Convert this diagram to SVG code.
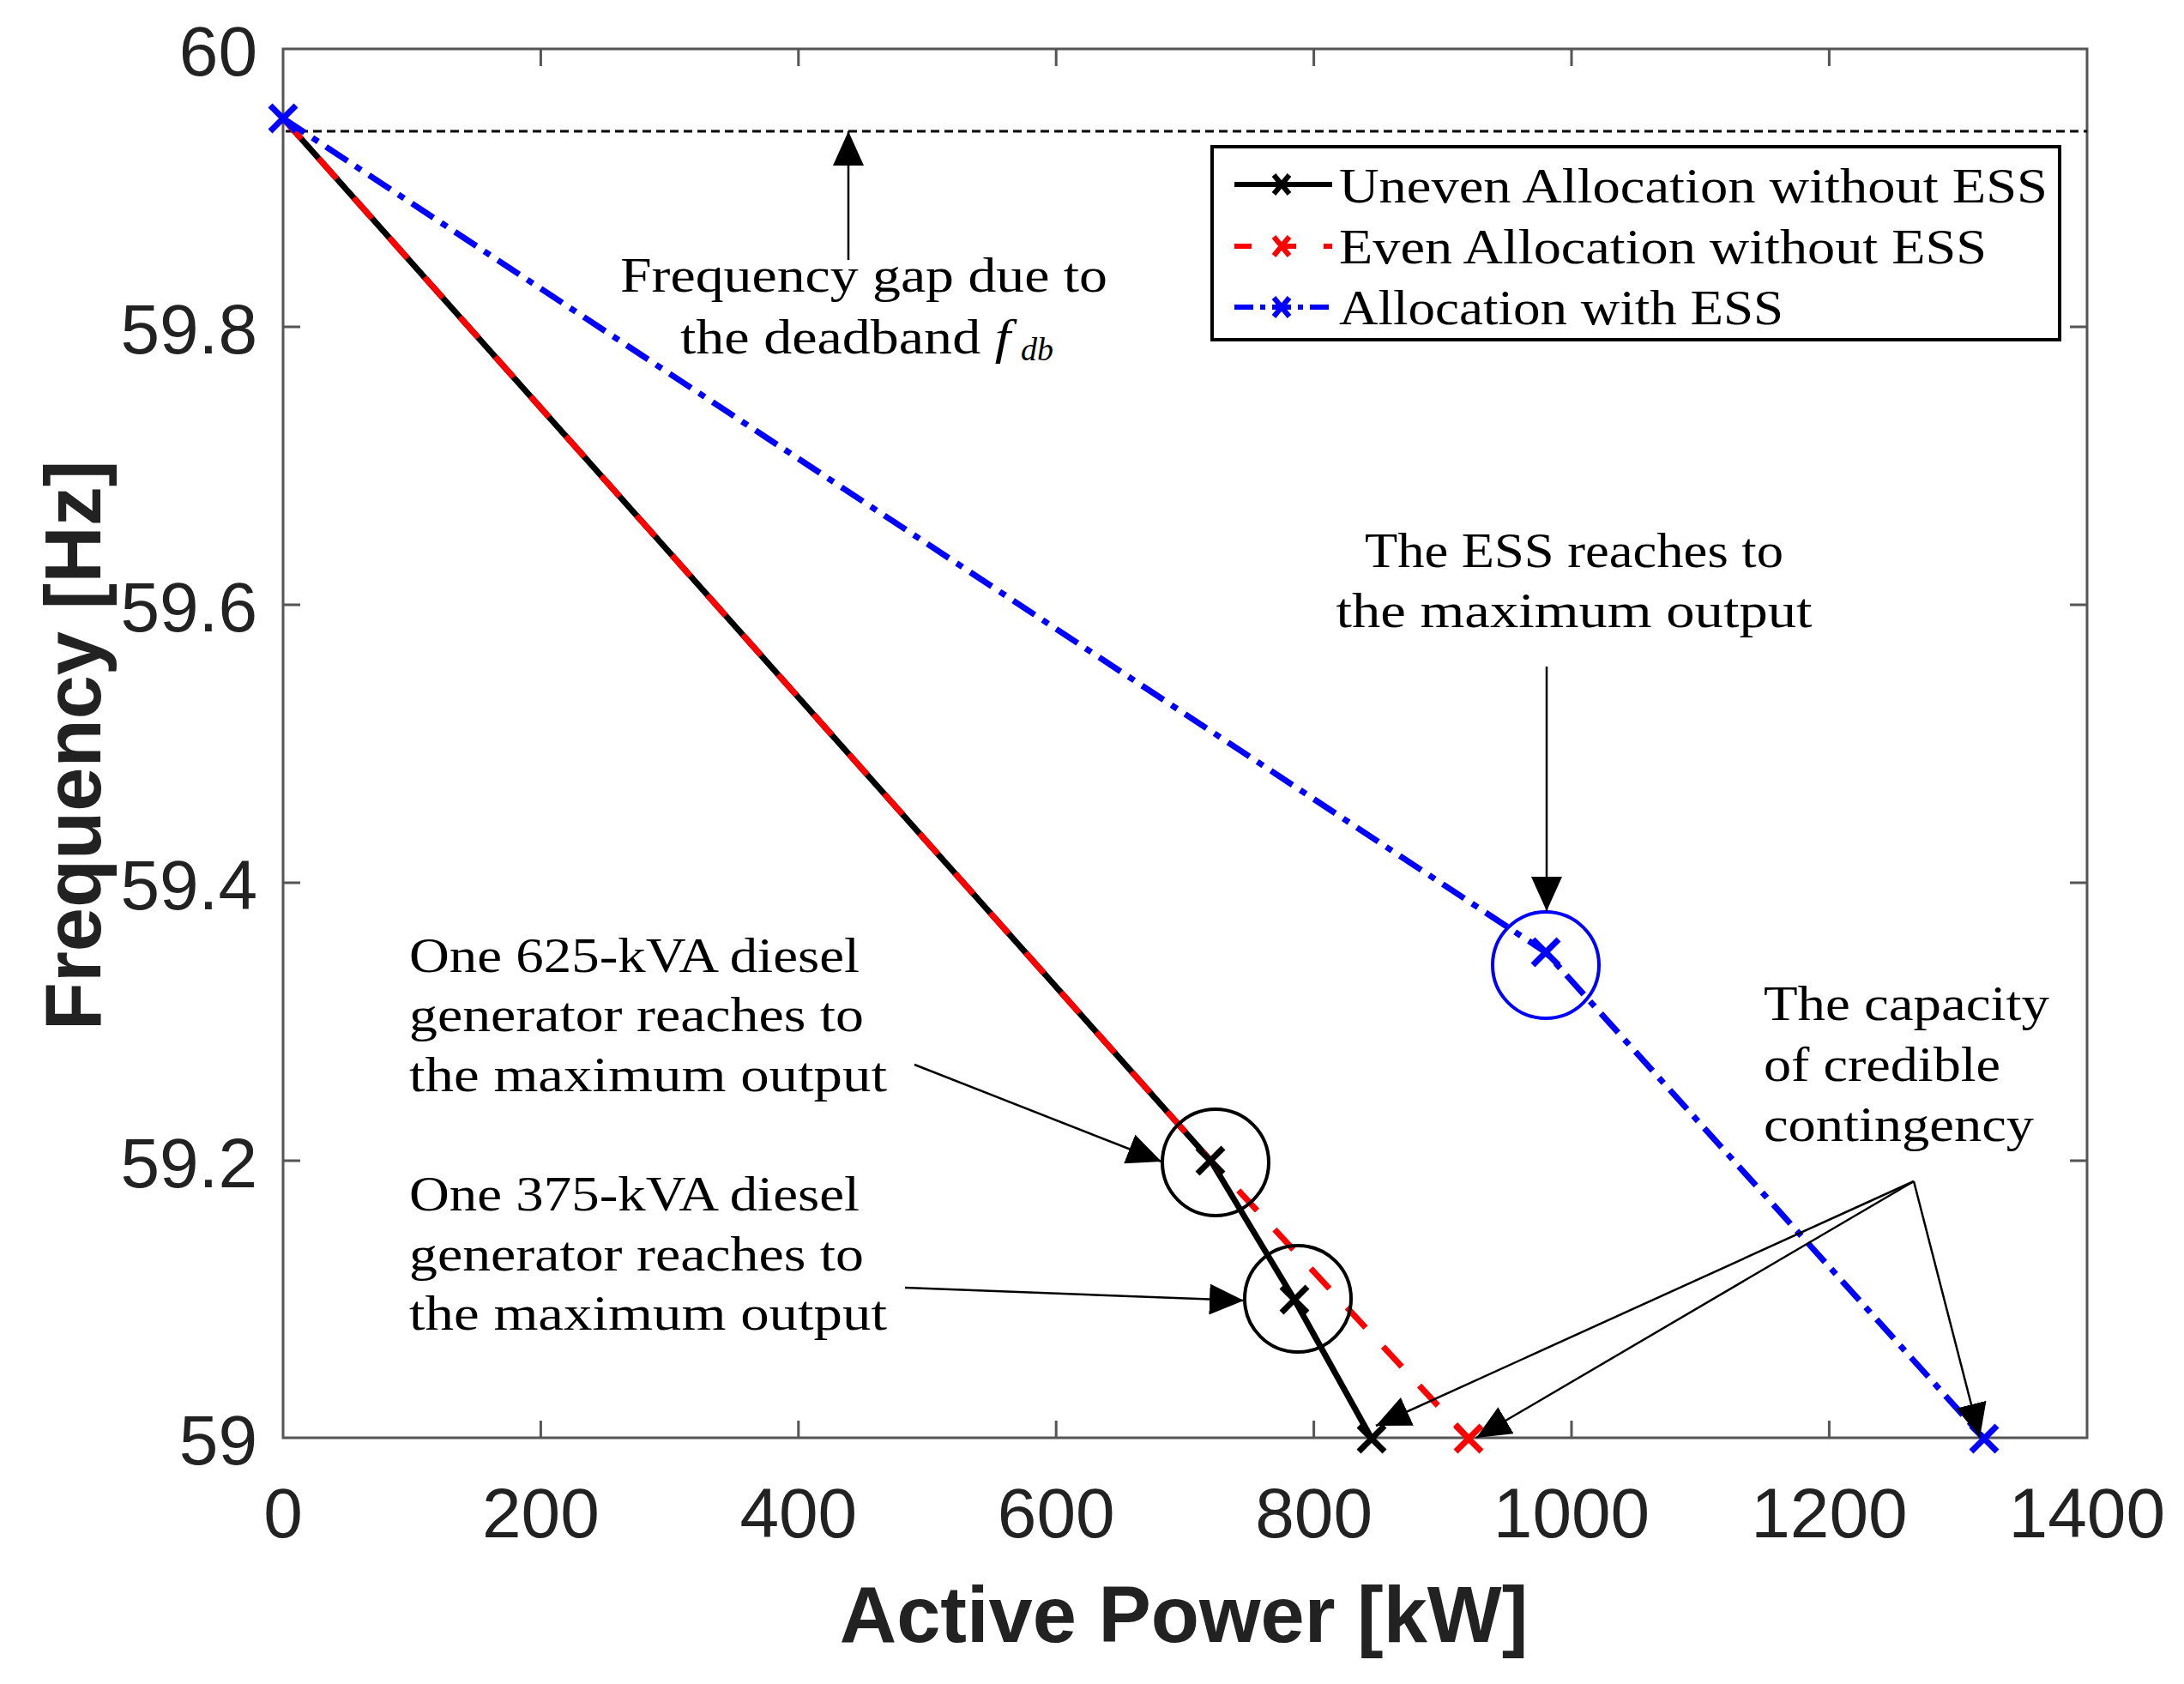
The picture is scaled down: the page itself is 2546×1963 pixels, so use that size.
<svg xmlns="http://www.w3.org/2000/svg" width="2546" height="1963" viewBox="0 0 2546 1963">
<style>
.tick{font-family:"Liberation Sans",Arial,sans-serif;font-size:82px;fill:#222}
.ttl{font-family:"Liberation Sans",Arial,sans-serif;font-size:92px;font-weight:bold;fill:#222}
.ann{font-family:"Liberation Serif","Times New Roman",serif;font-size:56px;fill:#000}
.ax{stroke:#555;stroke-width:3;fill:none}
</style>
<defs>
<marker id="ahb" viewBox="0 0 40 36" refX="40" refY="18" markerWidth="40" markerHeight="36" orient="auto" markerUnits="userSpaceOnUse"><path d="M0,0 L40,18 L0,36 Z" fill="#000"/></marker>
</defs>
<rect width="2546" height="1963" fill="#fff"/>
<g id="axes">
<rect x="330" y="57" width="2103" height="1619" class="ax"/>
<path class="ax" d="M630.4,57v20M930.8,57v20M1231.2,57v20M1531.6,57v20M1832,57v20M2132.4,57v20M630.4,1676v-20M930.8,1676v-20M1231.2,1676v-20M1531.6,1676v-20M1832,1676v-20M2132.4,1676v-20M330,381h20M330,705h20M330,1029h20M330,1353h20M2433,381h-20M2433,705h-20M2433,1029h-20M2433,1353h-20"/>
<g class="tick" text-anchor="end">
<text x="300" y="88">60</text><text x="300" y="412">59.8</text><text x="300" y="736">59.6</text><text x="300" y="1060">59.4</text><text x="300" y="1384">59.2</text><text x="300" y="1707">59</text>
</g>
<g class="tick" text-anchor="middle">
<text x="330" y="1792">0</text><text x="630.4" y="1792">200</text><text x="930.8" y="1792">400</text><text x="1231.2" y="1792">600</text><text x="1531.6" y="1792">800</text><text x="1832" y="1792">1000</text><text x="2132.4" y="1792">1200</text><text x="2432.8" y="1792">1400</text>
</g>
<text class="ttl" x="1380" y="1914" text-anchor="middle">Active Power [kW]</text>
<text class="ttl" transform="translate(117,869) rotate(-90)" text-anchor="middle">Frequency [Hz]</text>
</g>
<g id="curves" fill="none" stroke-width="7">
<line x1="333" y1="153" x2="2433" y2="153" stroke="#000" stroke-width="3" stroke-dasharray="10,6"/>
<polyline points="330,138 1411.5,1353 1509,1515 1599,1677" stroke="#000"/>
<polyline points="330,138 1411.5,1353 1712,1677" stroke="#f00" stroke-dasharray="32,30"/>
<polyline points="330,138 1802,1110 2313,1677" stroke="#00f" stroke-dasharray="30,11,8,11"/>
<g stroke-width="7">
<path d="M1396,1338l30,30M1426,1338l-30,30M1494,1500l30,30M1524,1500l-30,30M1584,1662l30,30M1614,1662l-30,30" stroke="#000"/>
<path d="M1697,1662l30,30M1727,1662l-30,30" stroke="#f00"/>
<path d="M315,123l30,30M345,123l-30,30M1787,1095l30,30M1817,1095l-30,30M2298,1662l30,30M2328,1662l-30,30" stroke="#00f"/>
</g>
<circle cx="1802" cy="1125" r="62" stroke="#00f" stroke-width="4"/>
<circle cx="1417" cy="1355" r="62" stroke="#000" stroke-width="4"/>
<circle cx="1513" cy="1514" r="62" stroke="#000" stroke-width="4"/>
</g>
<g id="legend">
<rect x="1413" y="171" width="988" height="225" fill="#fff" stroke="#000" stroke-width="4"/>
<line x1="1439" y1="215" x2="1553" y2="215" stroke="#000" stroke-width="6"/>
<path d="M1485,204l18,22M1503,204l-18,22" stroke="#000" stroke-width="6"/>
<line x1="1439" y1="287" x2="1553" y2="287" stroke="#f00" stroke-width="6" stroke-dasharray="20,32"/>
<path d="M1485,276l18,22M1503,276l-18,22" stroke="#f00" stroke-width="6"/>
<line x1="1439" y1="358" x2="1553" y2="358" stroke="#00f" stroke-width="6" stroke-dasharray="22,8,6,8"/>
<path d="M1485,347l18,22M1503,347l-18,22" stroke="#00f" stroke-width="6"/>
<text class="ann" x="1561" y="236" textLength="826" lengthAdjust="spacingAndGlyphs">Uneven Allocation without ESS</text>
<text class="ann" x="1561" y="307" textLength="755" lengthAdjust="spacingAndGlyphs">Even Allocation without ESS</text>
<text class="ann" x="1561" y="378" textLength="518" lengthAdjust="spacingAndGlyphs">Allocation with ESS</text>
</g>
<g id="connectors" fill="none" stroke="#000" stroke-width="2.5">
<line x1="989" y1="303" x2="989" y2="153" marker-end="url(#ahb)"/>
<line x1="1803" y1="777" x2="1803" y2="1062" marker-end="url(#ahb)"/>
<line x1="1066" y1="1241" x2="1354" y2="1354" marker-end="url(#ahb)"/>
<line x1="1055" y1="1501" x2="1450" y2="1516" marker-end="url(#ahb)"/>
<line x1="2231" y1="1377" x2="1604" y2="1662" marker-end="url(#ahb)"/>
<line x1="2231" y1="1377" x2="1721" y2="1676" marker-end="url(#ahb)"/>
<line x1="2231" y1="1377" x2="2308" y2="1676" marker-end="url(#ahb)"/>
</g>
<g id="annotations" class="ann">
<text x="1007" y="340" text-anchor="middle" textLength="568" lengthAdjust="spacingAndGlyphs">Frequency gap due to</text>
<text x="793" y="412" textLength="385" lengthAdjust="spacingAndGlyphs">the deadband <tspan font-style="italic">f</tspan></text>
<text x="1190" y="420" font-size="38" font-style="italic">db</text>
<text x="1835" y="661" text-anchor="middle" textLength="488" lengthAdjust="spacingAndGlyphs">The ESS reaches to</text>
<text x="1835" y="731" text-anchor="middle" textLength="555" lengthAdjust="spacingAndGlyphs">the maximum output</text>
<text x="477" y="1133" textLength="525" lengthAdjust="spacingAndGlyphs">One 625-kVA diesel</text>
<text x="477" y="1202" textLength="530" lengthAdjust="spacingAndGlyphs">generator reaches to</text>
<text x="477" y="1272" textLength="557" lengthAdjust="spacingAndGlyphs">the maximum output</text>
<text x="477" y="1411" textLength="525" lengthAdjust="spacingAndGlyphs">One 375-kVA diesel</text>
<text x="477" y="1481" textLength="530" lengthAdjust="spacingAndGlyphs">generator reaches to</text>
<text x="477" y="1550" textLength="557" lengthAdjust="spacingAndGlyphs">the maximum output</text>
<text x="2056" y="1189" textLength="333" lengthAdjust="spacingAndGlyphs">The capacity</text>
<text x="2056" y="1260" textLength="276" lengthAdjust="spacingAndGlyphs">of credible</text>
<text x="2056" y="1330" textLength="315" lengthAdjust="spacingAndGlyphs">contingency</text>
</g>
</svg>
